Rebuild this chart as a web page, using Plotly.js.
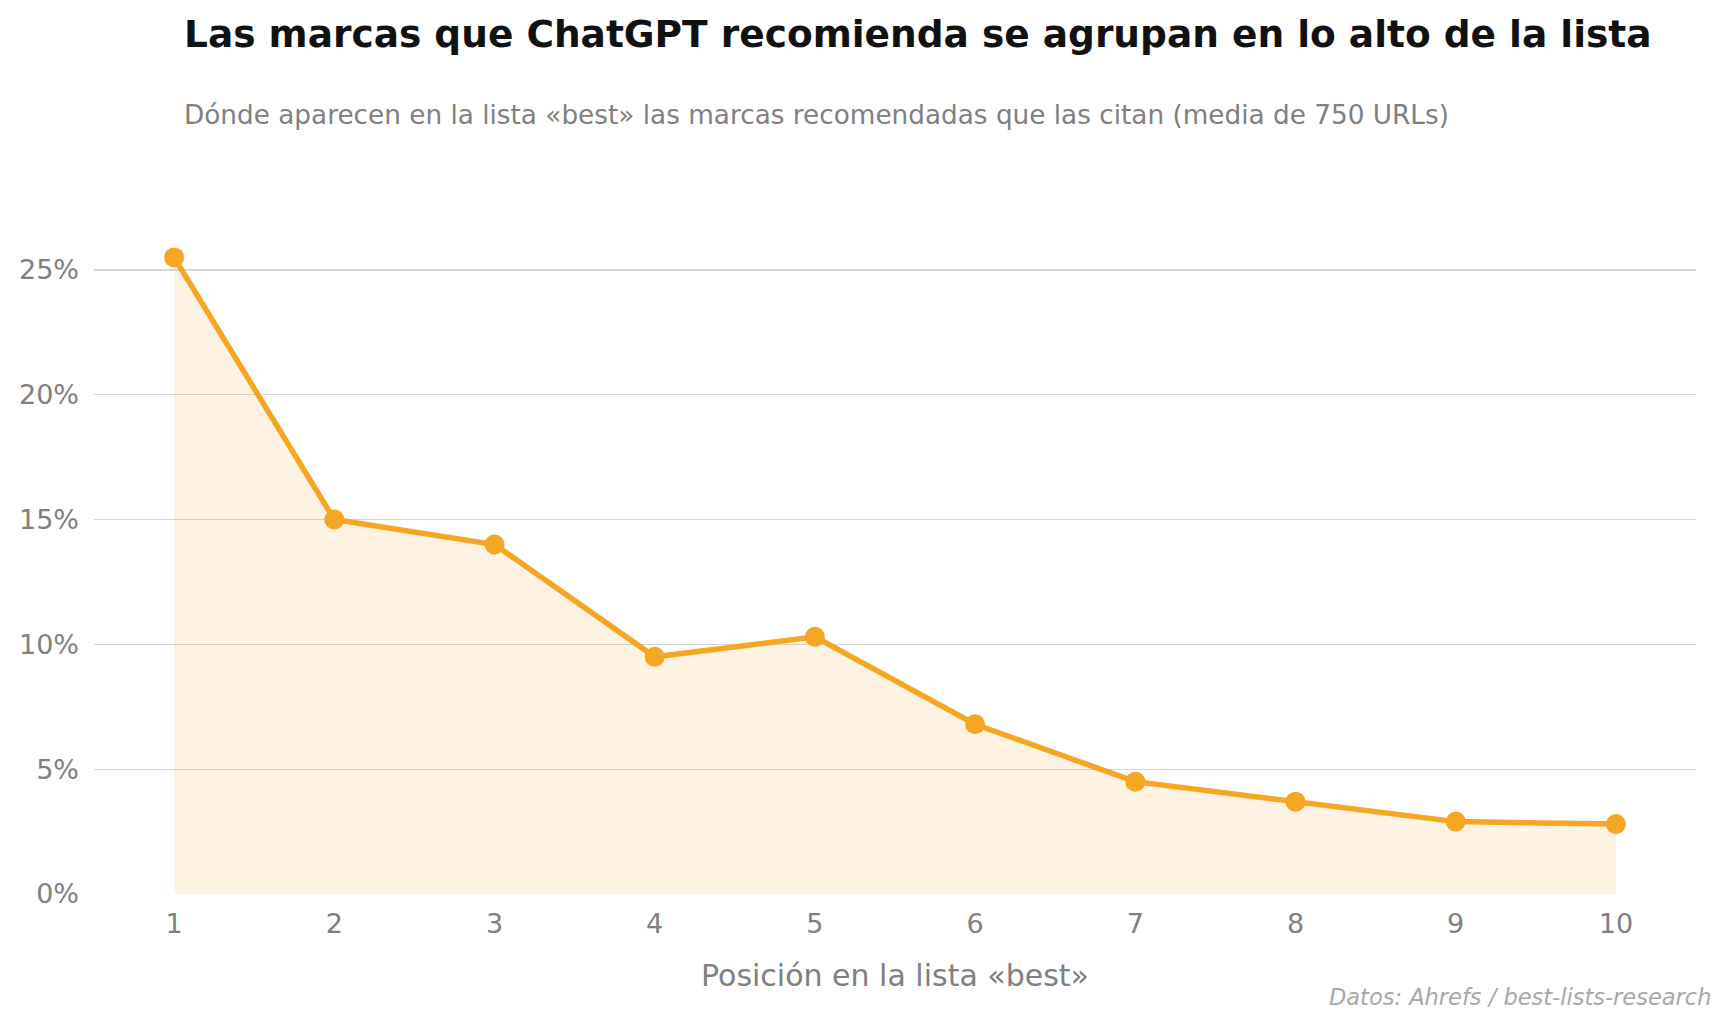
<!DOCTYPE html>
<html>
<head>
<meta charset="utf-8">
<script src="https://cdn.plot.ly/plotly-3.0.1.min.js"></script>
<style>html,body{margin:0;padding:0;background:#fff;}#chart{width:1732px;height:1027px;}</style>
</head>
<body>
<div id="chart"></div>
<script>
const positions = [1, 2, 3, 4, 5, 6, 7, 8, 9, 10];
const sharePct = [25.5, 15.0, 14.0, 9.5, 10.3, 6.8, 4.5, 3.7, 2.9, 2.8];
const yTicks = [0, 5, 10, 15, 20, 25];
const yTickLabels = ['0%', '5%', '10%', '15%', '20%', '25%'];
const titleText = 'Las marcas que ChatGPT recomienda se agrupan en lo alto de la lista';
const subtitleText = 'Dónde aparecen en la lista «best» las marcas recomendadas que las citan (media de 750 URLs)';
const xTitleText = 'Posición en la lista «best»';
const sourceText = 'Datos: Ahrefs / best-lists-research';

const FONT = 'DejaVu Sans, sans-serif';
const ORANGE = '#F5A623';

const data = [{
  x: positions,
  y: sharePct,
  type: 'scatter',
  mode: 'lines+markers',
  fill: 'tozeroy',
  fillcolor: 'rgba(245,166,35,0.13)',
  line: {color: ORANGE, width: 5.5},
  marker: {color: ORANGE, size: 20},
  hoverinfo: 'skip'
}];

const layout = {
  width: 1732,
  height: 1027,
  paper_bgcolor: '#ffffff',
  plot_bgcolor: '#ffffff',
  margin: {l: 94, r: 36, t: 205, b: 133},
  showlegend: false,
  font: {family: FONT, color: '#808080'},
  title: {
    text: '<b>' + titleText + '</b>',
    font: {family: FONT, size: 37.5, color: '#111111'},
    xref: 'container', yref: 'container',
    x: 184 / 1732, xanchor: 'left',
    y: 1 - 34 / 1027, yanchor: 'middle'
  },
  xaxis: {
    range: [0.5, 10.5],
    tickvals: positions,
    ticktext: positions.map(String),
    showgrid: false,
    zeroline: false,
    showline: false,
    ticks: '',
    ticklabelstandoff: 11,
    tickfont: {family: FONT, size: 27, color: '#808080'},
    title: {text: xTitleText, font: {family: FONT, size: 30, color: '#808080'}, standoff: 26}
  },
  yaxis: {
    range: [0, 27.6],
    tickvals: yTicks,
    ticktext: yTickLabels,
    showgrid: true,
    gridcolor: '#d6d6d6',
    gridwidth: 1.3,
    zeroline: false,
    showline: false,
    ticks: '',
    ticklabelstandoff: 14,
    tickfont: {family: FONT, size: 27, color: '#808080'}
  },
  annotations: [
    {
      text: subtitleText,
      xref: 'paper', yref: 'paper',
      x: 0.0548, xanchor: 'left',
      y: 1.130, yanchor: 'middle',
      showarrow: false,
      font: {family: FONT, size: 26.3, color: '#808080'}
    },
    {
      text: '<i>' + sourceText + '</i>',
      xref: 'paper', yref: 'paper',
      x: 1.0103, xanchor: 'right',
      y: -0.150, yanchor: 'middle',
      showarrow: false,
      font: {family: FONT, size: 22.5, color: '#a8a8a8'}
    }
  ]
};

Plotly.newPlot('chart', data, layout, {displayModeBar: false, staticPlot: true});
</script>
</body>
</html>
